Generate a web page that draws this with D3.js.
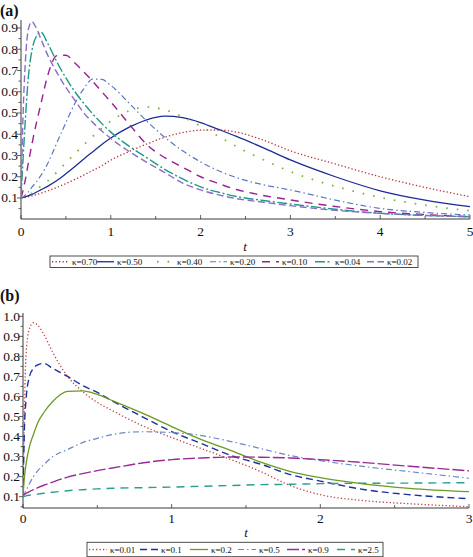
<!DOCTYPE html>
<html><head><meta charset="utf-8">
<script src="https://cdn.jsdelivr.net/npm/d3@7"></script>
<style>body{margin:0;background:#fff}svg{display:block}text{font-family:"Liberation Serif","DejaVu Serif",serif}</style>
</head><body>
<svg id="c" width="473" height="557"></svg>
<script>
// ---------- Panel (a) data ----------
const tA = [0,0.02,0.05,0.08,0.12,0.17,0.22,0.3,0.4,0.5,0.6,0.7,0.8,0.9,1.0,1.2,1.4,1.6,1.8,2.0,2.2,2.4,2.7,3.0,3.5,4.0,4.5,5.0];
const a_k070 = [0.100,0.101,0.103,0.106,0.110,0.116,0.122,0.134,0.150,0.168,0.188,0.208,0.230,0.252,0.278,0.318,0.354,0.386,0.408,0.419,0.420,0.410,0.372,0.322,0.260,0.200,0.150,0.106];
const a_k050 = [0.100,0.102,0.106,0.110,0.117,0.127,0.138,0.156,0.182,0.214,0.248,0.284,0.318,0.352,0.382,0.432,0.468,0.485,0.478,0.455,0.423,0.390,0.336,0.279,0.200,0.134,0.090,0.059];
const a_k040 = [0.100,0.102,0.108,0.114,0.122,0.138,0.156,0.181,0.222,0.266,0.308,0.350,0.390,0.428,0.462,0.510,0.528,0.515,0.482,0.438,0.390,0.342,0.280,0.224,0.155,0.103,0.066,0.040];
const a_k020 = [0.100,0.104,0.115,0.128,0.150,0.175,0.205,0.265,0.360,0.455,0.545,0.615,0.660,0.658,0.630,0.548,0.462,0.386,0.322,0.270,0.228,0.196,0.162,0.138,0.090,0.051,0.032,0.020];
const a_k010 = [0.100,0.130,0.190,0.260,0.350,0.450,0.540,0.680,0.770,0.772,0.735,0.693,0.648,0.600,0.552,0.450,0.352,0.290,0.245,0.200,0.168,0.140,0.112,0.091,0.060,0.036,0.022,0.012];
const a_k004 = [0.100,0.260,0.480,0.660,0.790,0.860,0.880,0.825,0.740,0.665,0.600,0.545,0.495,0.450,0.410,0.345,0.290,0.235,0.190,0.152,0.127,0.107,0.088,0.072,0.047,0.028,0.018,0.012];
const a_k002 = [0.100,0.450,0.750,0.890,0.930,0.900,0.850,0.770,0.690,0.620,0.560,0.500,0.455,0.415,0.380,0.320,0.268,0.220,0.170,0.138,0.115,0.097,0.080,0.064,0.042,0.028,0.018,0.012];
const a_labels = ["κ=0.70","κ=0.50","κ=0.40","κ=0.20","κ=0.10","κ=0.04","κ=0.02"];
const a_xticks = [0,1,2,3,4,5];
const a_yticks = [0.1,0.2,0.3,0.4,0.5,0.6,0.7,0.8,0.9];

// ---------- Panel (b) data ----------
const tB = [0,0.01,0.02,0.04,0.07,0.1,0.14,0.2,0.3,0.4,0.5,0.6,0.8,1.0,1.2,1.4,1.6,1.8,2.0,2.3,2.6,3.0];
const b_k001 = [0.100,0.550,0.800,0.930,0.968,0.955,0.910,0.820,0.700,0.625,0.570,0.530,0.455,0.395,0.340,0.285,0.225,0.155,0.110,0.080,0.065,0.050];
const b_k01  = [0.100,0.450,0.580,0.690,0.740,0.758,0.765,0.740,0.700,0.655,0.620,0.578,0.500,0.425,0.365,0.305,0.262,0.210,0.178,0.135,0.110,0.090];
const b_k02  = [0.100,0.200,0.260,0.340,0.410,0.470,0.520,0.575,0.625,0.628,0.610,0.580,0.518,0.450,0.385,0.330,0.272,0.225,0.195,0.163,0.142,0.125];
const b_k05  = [0.100,0.115,0.130,0.160,0.200,0.230,0.260,0.300,0.335,0.370,0.391,0.410,0.424,0.420,0.405,0.375,0.340,0.305,0.280,0.250,0.225,0.192];
const b_k09  = [0.108,0.112,0.116,0.124,0.135,0.145,0.157,0.173,0.198,0.215,0.230,0.243,0.268,0.285,0.293,0.298,0.297,0.293,0.285,0.270,0.252,0.229];
const b_k25  = [0.100,0.102,0.104,0.107,0.110,0.113,0.117,0.122,0.130,0.135,0.139,0.142,0.145,0.148,0.152,0.156,0.160,0.162,0.165,0.167,0.168,0.170];
const b_labels = ["κ=0.01","κ=0.1","κ=0.2","κ=0.5","κ=0.9","κ=2.5"];
const b_xticks = [0,1,2,3];
const b_yticks = [0.1,0.2,0.3,0.4,0.5,0.6,0.7,0.8,0.9,1.0];

const svg = d3.select("#c");
const serif = "Liberation Serif";
const axisCol = "#3a3a3a";

const styleA = [
  {c:"#b8323c", d:"1.3,2.2", w:1.3},
  {c:"#1c2b96", d:null, w:1.3},
  {c:"#7fb241", d:"1.6,9", w:1.8},
  {c:"#5b78c4", d:"6,3,1.5,3", w:1.2},
  {c:"#9a2190", d:"8,6", w:1.4},
  {c:"#1f9a88", d:"10,2.5,2,2.5", w:1.4},
  {c:"#8c6cc8", d:"7,3.5", w:1.4}
];
const styleB = [
  {c:"#c0434d", d:"1.3,2.2", w:1.3},
  {c:"#1d2f9c", d:"7,4", w:1.4},
  {c:"#6c9a22", d:null, w:1.3},
  {c:"#6a86c8", d:"6,3,1.5,3", w:1.2},
  {c:"#9b2a96", d:"12,3", w:1.4},
  {c:"#2c9d93", d:"8,6", w:1.4}
];

function panel(cfg){
  const g = svg.append("g");
  const x = d3.scaleLinear().domain(cfg.xd).range(cfg.xr);
  const y = d3.scaleLinear().domain(cfg.yd).range(cfg.yr);
  const x0 = cfg.xr[0], yb = cfg.axisY;
  const clipId = "clip"+cfg.id;
  svg.append("clipPath").attr("id",clipId).append("rect")
    .attr("x",x0).attr("y",cfg.axisTop-6).attr("width",cfg.xr[1]-x0+2).attr("height",yb-cfg.axisTop+6);
  g.append("line").attr("x1",x0).attr("x2",cfg.xr[1]).attr("y1",yb).attr("y2",yb).attr("stroke",axisCol).attr("stroke-width",1);
  g.append("line").attr("x1",x0).attr("x2",x0).attr("y1",yb).attr("y2",cfg.axisTop).attr("stroke",axisCol).attr("stroke-width",1);
  const xMinor = d3.range(cfg.xd[0], cfg.xd[1]+1e-9, 0.5);
  g.selectAll(".xm").data(xMinor).join("line")
    .attr("x1",d=>x(d)).attr("x2",d=>x(d)).attr("y1",yb).attr("y2",d=>yb-(Math.abs(d-Math.round(d))<1e-9?4:3))
    .attr("stroke",axisCol).attr("stroke-width",0.8);
  g.selectAll(".xl").data(cfg.xticks).join("text")
    .attr("x",d=>x(d)).attr("y",cfg.xLabelY).attr("text-anchor","middle")
    .style("font-family",serif).attr("font-size",13.5).attr("fill","#111").text(d=>d);
  const yMinor = d3.range(0.05, cfg.yMax+1e-9, 0.05).filter(v=>y(v)<=yb+0.5);
  g.selectAll(".ym").data(yMinor).join("line")
    .attr("x1",x0).attr("x2",d=>x0-(Math.abs(d*10-Math.round(d*10))<1e-6?4:2.5))
    .attr("y1",d=>y(d)).attr("y2",d=>y(d)).attr("stroke",axisCol).attr("stroke-width",0.8);
  g.selectAll(".yl").data(cfg.yticks).join("text")
    .attr("x",x0-3).attr("y",d=>y(d)+4.5).attr("text-anchor","end")
    .style("font-family",serif).attr("font-size",13.5).attr("fill","#111").text(d=>d3.format(".1f")(d));
  const line = d3.line().x((d,i)=>x(cfg.t[i])).y(d=>y(d)).curve(d3.curveMonotoneX);
  const cg = g.append("g").attr("clip-path",`url(#${clipId})`);
  cfg.series.forEach((s,i)=>{
    const st = cfg.styles[i];
    cg.append("path").attr("d",line(s)).attr("fill","none").attr("stroke",st.c)
      .attr("stroke-width",st.w).attr("stroke-dasharray",st.d);
  });
  g.append("text").attr("x",0).attr("y",cfg.tagY).style("font-family",serif).attr("font-weight","bold")
    .attr("font-size",16).attr("fill","#111").text(cfg.tag);
  g.append("text").attr("x",cfg.tX).attr("y",cfg.tY).style("font-family",serif).attr("font-style","italic")
    .attr("font-size",13).attr("fill","#111").attr("text-anchor","middle").text("t");
  const L = cfg.legend;
  g.append("rect").attr("x",L.x).attr("y",L.y).attr("width",L.w).attr("height",L.h)
    .attr("fill","#fff").attr("stroke",axisCol).attr("stroke-width",0.9);
  cfg.labels.forEach((lab,i)=>{
    const st = cfg.styles[i];
    const sx = L.items[i];
    const cy = L.y + L.h/2;
    g.append("line").attr("x1",sx).attr("x2",sx+L.sw).attr("y1",cy).attr("y2",cy)
      .attr("stroke",st.c).attr("stroke-width",st.w).attr("stroke-dasharray",st.d);
    g.append("text").attr("x",sx+L.sw+3).attr("y",cy+3.2).style("font-family",serif).attr("font-size",9)
      .attr("fill","#111").text(lab);
  });
}

panel({id:"a", t:tA, series:[a_k070,a_k050,a_k040,a_k020,a_k010,a_k004,a_k002], styles:styleA, labels:a_labels,
  xd:[0,5], xr:[21,470], yd:[0,0.9], yr:[219.25,27.99], yMax:0.93, axisY:219, axisTop:20,
  xticks:a_xticks, yticks:a_yticks, xLabelY:236, tag:"(a)", tagY:16, tX:245, tY:251,
  legend:{x:50,y:256,w:368,h:11.5,sw:17,items:[52,97,157,210,262,315,367]}});

panel({id:"b", t:tB, series:[b_k001,b_k01,b_k02,b_k05,b_k09,b_k25], styles:styleB, labels:b_labels,
  xd:[0,3], xr:[23,469], yd:[0.1,1.0], yr:[496.7,316.3], yMax:1.0, axisY:508, axisTop:313,
  xticks:b_xticks, yticks:b_yticks, xLabelY:523, tag:"(b)", tagY:301, tX:246, tY:537,
  legend:{x:87,y:542.3,w:296,h:14.4,sw:18,items:[89,140,190,238,287,337]}});
</script>
</body></html>
